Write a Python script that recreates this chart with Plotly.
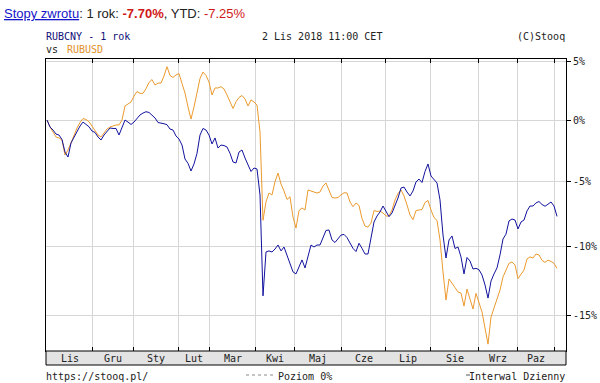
import math
import plotly.graph_objects as go

# ---------------- data ----------------
month_labels = ["Lis", "Gru", "Sty", "Lut", "Mar", "Kwi", "Maj", "Cze", "Lip", "Sie", "Wrz", "Paz"]
# month boundaries expressed in sample index units (one sample ~ 1.5 sessions)
month_starts = [15.0, 28.8, 43.8, 54.1, 69.6, 82.4, 98.2, 112.8, 127.9, 143.9, 156.8, 169.2]

# percent change vs start, RUBCNY (blue)
rubcny_pct = [
    0.0, -0.58, -0.83, -1.16, -1.24, -1.61, -2.63, -3.03, -1.89, -1.40,
    -0.91, -0.50, -0.17, -0.37, -0.56, -0.91, -1.03, -1.40, -1.65, -1.24,
    -0.99, -0.66, -0.70, -0.70, -1.24, -0.58, 0.0, -0.17, -0.37, -0.17,
    0.14, 0.42, 0.58, 0.69, 0.63, 0.42, 0.17, -0.21, -0.23, -0.31,
    -0.39, -0.75, -0.83, -1.32, -1.57, -2.06, -3.19, -3.54, -4.15, -3.59,
    -2.73, -1.24, -0.70, -0.83, -1.24, -1.97, -1.48, -2.30, -2.06, -2.10,
    -2.22, -2.73, -3.43, -3.51, -2.63, -2.46, -3.11, -3.67, -4.19, -3.91,
    -3.99, -6.04, -13.6, -10.39, -10.31, -10.39, -10.17, -9.87, -10.31, -10.02,
    -10.68, -11.27, -11.86, -12.01, -11.50, -10.98, -11.57, -10.61, -9.87, -10.02,
    -9.87, -9.87, -9.27, -8.77, -8.74, -9.49, -9.68, -9.42, -9.12, -9.07,
    -9.31, -9.72, -10.12, -10.36, -9.74, -10.12, -10.54, -10.54, -9.35, -8.13,
    -7.67, -7.36, -6.90, -7.29, -7.72, -7.44, -6.90, -6.28, -5.50, -5.42,
    -5.81, -6.12, -5.73, -5.02, -4.79, -5.06, -4.19, -3.59, -4.55, -4.79,
    -5.10, -6.43, -9.12, -10.84, -9.49, -9.19, -10.13, -10.02, -10.76, -12.01,
    -10.80, -11.06, -11.65, -11.60, -11.70, -12.09, -12.81, -13.76, -12.53, -12.01,
    -11.57, -10.61, -9.42, -9.05, -8.05, -7.90, -7.98, -8.66, -8.13, -7.98,
    -7.28, -6.90, -6.90, -6.66, -6.55, -6.78, -6.92, -6.76, -6.59, -6.90,
    -7.70,
]

# percent change vs start, RUBUSD (orange)
rubusd_pct = [
    0.0, -0.58, -0.99, -1.40, -1.48, -1.65, -2.87, -2.46, -1.89, -1.24,
    -0.66, -0.21, 0.12, 0.04, -0.14, -0.50, -0.83, -1.24, -1.40, -1.07,
    -0.75, -0.58, -0.50, -0.41, -0.41, 0.0, 1.17, 1.34, 1.51, 2.01,
    2.40, 2.24, 2.24, 2.64, 3.17, 3.42, 2.95, 3.12, 3.12, 3.73,
    4.53, 3.77, 3.60, 3.81, 3.94, 3.08, 2.27, 1.09, 0.08, 1.09,
    2.27, 3.51, 4.07, 3.77, 3.21, 2.10, 2.70, 2.70, 2.81, 2.61,
    2.10, 1.59, 0.96, 1.53, 1.89, 2.06, 1.76, 1.17, 1.68, 1.51,
    1.25, -0.99, -8.0, -6.57, -5.89, -6.04, -5.00, -4.31, -5.18, -5.73,
    -6.39, -6.18, -7.75, -8.59, -7.25, -7.05, -7.21, -5.65, -5.73, -5.81,
    -5.89, -5.81, -5.34, -5.10, -5.69, -6.24, -6.28, -6.24, -6.04, -5.87,
    -5.89, -6.59, -6.95, -6.67, -6.86, -7.86, -8.44, -8.52, -8.21, -7.25,
    -7.32, -7.29, -7.44, -7.67, -7.67, -7.21, -6.43, -5.93, -5.65, -6.12,
    -6.82, -7.59, -7.95, -7.25, -7.21, -7.17, -6.63, -6.47, -7.21, -7.79,
    -8.01, -9.49, -11.86, -13.90, -12.38, -12.74, -13.00, -13.32, -13.40, -14.33,
    -13.11, -13.83, -14.54, -13.42, -14.12, -14.75, -15.88, -17.0, -15.11, -14.49,
    -13.90, -13.18, -12.23, -11.79, -11.23, -11.13, -11.35, -12.35, -12.06, -11.72,
    -10.91, -10.76, -10.84, -10.54, -10.61, -11.01, -11.16, -11.00, -11.09, -11.23,
    -11.60,
]

y_tick_pct = [5, 0, -5, -10, -15]
y_tick_text = ["5%", "0%", "-5%", "-10%", "-15%"]

# ---------------- styles ----------------
BLUE = "#12129e"
ORANGE = "#ec9a2e"
GRID = "#d6d6d6"
MONO = "DejaVu Sans Mono"
SANS = "Liberation Sans, Arial, sans-serif"

W, H = 600, 383
L, R, T, B = 46, 34, 59, 32
PW, PH = W - L - R, H - T - B


def px_x(px):
    return (px - L) / PW


def px_y(py):
    return (H - B - py) / PH


x = list(range(len(rubcny_pct)))
fig = go.Figure()
fig.add_trace(go.Scatter(x=x, y=[1 + v / 100 for v in rubusd_pct], mode="lines",
                         line=dict(color=ORANGE, width=1), hoverinfo="skip"))
fig.add_trace(go.Scatter(x=x, y=[1 + v / 100 for v in rubcny_pct], mode="lines",
                         line=dict(color=BLUE, width=1), hoverinfo="skip"))

fig.update_layout(
    width=W, height=H,
    margin=dict(l=L, r=R, t=T, b=B, pad=0, autoexpand=False),
    paper_bgcolor="white", plot_bgcolor="white",
    showlegend=False,
    xaxis=dict(range=[-0.333, 173], tickvals=month_starts, showticklabels=False,
               ticks="inside", ticklen=4, tickcolor="#000", showgrid=True,
               gridcolor=GRID, gridwidth=1, showline=True, linecolor="#000",
               linewidth=1, mirror="ticks", zeroline=False, automargin=False),
    yaxis=dict(type="log", side="right",
               range=[math.log10(0.82529), math.log10(1.05202)],
               tickvals=[1 + v / 100 for v in y_tick_pct], ticktext=y_tick_text,
               ticks="outside", ticklen=4, tickcolor="#000",
               tickfont=dict(family=MONO, size=10, color="#222"),
               showgrid=True, gridcolor=GRID, gridwidth=1,
               showline=True, linecolor="#000", linewidth=1, mirror=True,
               zeroline=False, automargin=False),
)

shapes = [
    dict(type="line", xref="paper", x0=0, x1=1, yref="y", y0=0, y1=0,
         line=dict(color="#8a8a8a", width=1, dash="3px,3px"), layer="between"),
    dict(type="rect", xref="paper", x0=0, x1=1, yref="paper", y0=px_y(365), y1=0,
         fillcolor="#e3e3e3", line=dict(color="#000", width=1), layer="above"),
    dict(type="line", xref="paper", x0=px_x(246), x1=px_x(274), yref="paper",
         y0=px_y(375), y1=px_y(375), line=dict(color="#8a8a8a", width=1, dash="3px,3px")),
    dict(type="line", xref="paper", x0=px_x(466), x1=px_x(470), yref="paper",
         y0=px_y(375), y1=px_y(375), line=dict(color="#555", width=1)),
]
fig.update_layout(shapes=shapes)

ann = []
# month labels centred in the strip
bounds = [0] + month_starts
for i, lab in enumerate(month_labels):
    mid = (bounds[i] + bounds[i + 1]) / 2
    ann.append(dict(x=mid, xref="x", y=px_y(358), yref="paper", text=lab,
                    showarrow=False, font=dict(family=MONO, size=10, color="#222"),
                    xanchor="center", yanchor="middle"))


def txt(text, px, py, anchor="left", font=MONO, size=10, color="#222"):
    ann.append(dict(x=px_x(px), xref="paper", y=px_y(py), yref="paper", text=text,
                    showarrow=False, xanchor=anchor, yanchor="middle",
                    font=dict(family=font, size=size, color=color)))


txt('<span style="text-decoration:underline;color:#1515c8">Stopy zwrotu</span>: 1 rok: '
    '<b><span style="color:#d01818">-7.70%</span></b>, YTD: '
    '<span style="color:#d01818">-7.25%</span>', 2, 13, font=SANS, size=13, color="#222")
txt("RUBCNY - 1 rok", 44, 37, color="#10107a")
txt("2 Lis 2018 11:00 CET", 260, 37)
txt("(C)Stooq", 567, 37, anchor="right")
txt("vs", 44, 49)
txt("RUBUSD", 65, 49, color="#e0902a")
txt("https://stooq.pl/", 44, 376)
txt("Poziom 0%", 276, 376)
txt("Interwal Dzienny", 567, 376, anchor="right")

fig.update_layout(annotations=ann)
fig.write_html("out.html", config={"displayModeBar": False},
               post_script="document.body.style.margin='0';document.body.style.padding='0';")
